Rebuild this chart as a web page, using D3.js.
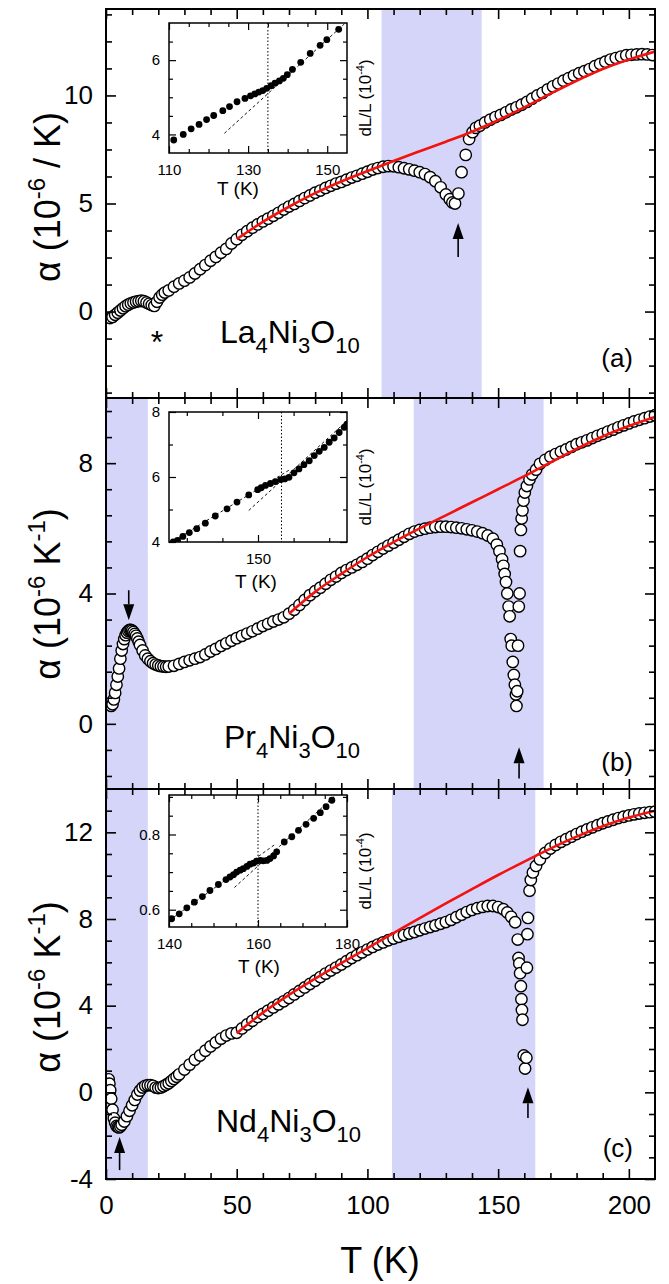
<!DOCTYPE html>
<html lang="en">
<head>
<meta charset="UTF-8" />
<script src="https://cdn.jsdelivr.net/npm/d3@7/dist/d3.min.js"></script>
<style>
  body { margin: 0; background: #fff; }
  text { font-family: "Liberation Sans", Arial, sans-serif; fill: #000; }
</style>
</head>
<body>
<svg width="669" height="1284"></svg>
<script>
// ---------- data: [T (K), alpha (1e-6/K)] ----------
const dataA = [[1.5,-0.3],[2.5,-0.25],[3.5,-0.15],[4.5,-0.05],[5.5,0.05],[6.5,0.15],[7.5,0.25],[8.5,0.32],[9.5,0.38],[10.5,0.42],
  [11.5,0.46],[12.5,0.48],[13.5,0.5],[14.5,0.48],[15.5,0.42],[16.5,0.36],[17.5,0.3],[18.5,0.26],[19.5,0.45],[20.5,0.65],
  [21.5,0.78],[22.5,0.88],[24,0.98],[26,1.15],[28,1.3],[30,1.43],[32,1.58],[34,1.76],[36,1.96],[38,2.15],[40,2.35],
  [42,2.53],[44,2.72],[46,2.9],[48,3.15],[50,3.35],[52,3.55],[54,3.72],[56,3.88],[58,4.03],[60,4.17],[62,4.3],[64,4.43],
  [66,4.57],[68,4.72],[70,4.86],[72,4.98],[74,5.12],[76,5.25],[78,5.37],[80,5.5],[82,5.6],[84,5.72],[86,5.82],[88,5.92],
  [90,6.0],[92,6.1],[94,6.2],[96,6.28],[98,6.38],[100,6.47],[102,6.57],[104,6.64],[106,6.7],[108,6.73],[110,6.72],
  [112,6.68],[114,6.63],[116,6.58],[118,6.52],[120,6.45],[122,6.36],[124,6.22],[126,6.03],[128,5.75],[130,5.42],
  [131.5,5.2],[132.5,5.05],[133.5,5.0],[134.8,5.46],[136,6.45],[137.6,7.25],[138.9,7.98],[140.2,8.3],[141.5,8.5],[143,8.6],
  [145,8.75],[147,8.88],[149,9.0],[151,9.1],[153,9.22],[155,9.35],[157,9.45],[159,9.57],[161,9.7],[163,9.85],[165,10.0],
  [167,10.12],[169,10.28],[171,10.42],[173,10.55],[175,10.68],[177,10.8],[179,10.92],[181,11.03],[183,11.12],[185,11.22],
  [187,11.35],[189,11.46],[191,11.56],[193,11.66],[195,11.73],[197,11.8],[199,11.86],[201,11.88],[203,11.9],[205,11.91],
  [207,11.9],[209,11.87]];
const fitA = [[50,3.35],[60,4.15],[70,4.85],[80,5.48],[90,6.02],[100,6.5],[110,6.97],[120,7.42],[130,7.86],[140,8.32],
  [150,8.85],[160,9.45],[170,10.08],[180,10.68],[190,11.22],[200,11.66],[210,12.03]];

const dataB = [[2,0.55],[2.5,0.6],[3,0.75],[3.5,0.95],[4,1.2],[4.5,1.45],[5,1.7],[5.5,2.0],[6,2.25],[6.5,2.45],[7,2.6],
  [7.5,2.72],[8,2.8],[8.5,2.85],[9,2.88],[9.5,2.88],[10,2.86],[10.5,2.82],[11,2.76],[11.5,2.7],[12,2.62],[12.5,2.52],
  [13,2.42],[14,2.25],[15,2.1],[16,2.0],[17,1.92],[18,1.86],[19,1.82],[20,1.79],[21,1.77],[22,1.76],[23,1.75],[24,1.76],
  [26,1.78],[28,1.84],[30,1.9],[32,1.95],[34,2.0],[36,2.05],[38,2.13],[40,2.22],[42,2.3],[44,2.39],[46,2.47],[48,2.55],
  [50,2.63],[52,2.7],[54,2.77],[56,2.84],[58,2.92],[60,3.0],[62,3.07],[64,3.14],[66,3.2],[68,3.27],[70,3.38],[72,3.5],
  [74,3.65],[76,3.8],[78,3.95],[80,4.07],[82,4.18],[84,4.3],[86,4.42],[88,4.52],[90,4.63],[92,4.72],[94,4.8],[96,4.88],
  [98,4.97],[100,5.07],[102,5.18],[104,5.28],[106,5.38],[108,5.47],[110,5.56],[112,5.65],[114,5.74],[116,5.83],[118,5.9],
  [120,5.95],[122,5.99],[124,6.02],[126,6.04],[128,6.05],[130,6.05],[132,6.04],[134,6.02],[136,6.0],[138,5.97],[140,5.94],
  [142,5.9],[144,5.85],[146,5.78],[148,5.68],[149.5,5.5],[150.5,5.3],[151.5,5.05],[152,4.85],[152.5,4.6],[153,4.35],
  [153.5,4.0],[154,3.6],[154.4,3.3],[154.8,2.6],[155.2,2.4],[155.6,1.9],[156,1.5],[156.4,1.2],[156.8,0.9],[157,0.55],
  [157.3,1.0],[157.6,2.4],[157.9,3.6],[158.2,4.0],[158.4,5.3],[158.7,5.95],[159,6.3],[159.3,6.55],[159.7,6.85],[160.2,7.1],
  [161,7.3],[162,7.5],[163,7.65],[164.5,7.8],[166,7.98],[168,8.1],[170,8.2],[172,8.28],[174,8.35],[176,8.42],[178,8.5],
  [180,8.58],[182,8.64],[184,8.7],[186,8.77],[188,8.84],[190,8.9],[192,8.97],[194,9.03],[196,9.1],[198,9.16],[200,9.22],
  [202,9.28],[204,9.33],[206,9.38],[208,9.43],[210,9.47]];
const fitB = [[70,3.38],[80,4.05],[90,4.6],[100,5.12],[110,5.58],[120,6.0],[130,6.4],[140,6.8],[150,7.2],[160,7.6],
  [170,8.02],[180,8.44],[190,8.82],[200,9.14],[210,9.42]];

const dataC = [[1,0.6],[1.3,0.4],[1.6,0.1],[2,-0.3],[2.5,-0.8],[3,-1.2],[3.5,-1.4],[4,-1.55],[4.5,-1.6],[5,-1.62],
  [5.5,-1.58],[6,-1.5],[7,-1.35],[8,-1.1],[9,-0.85],[10,-0.6],[11,-0.35],[12,-0.1],[13,0.08],[14,0.22],[15,0.3],
  [16,0.33],[17,0.33],[18,0.3],[19,0.22],[20,0.2],[21,0.22],[22,0.28],[23,0.35],[24,0.42],[25,0.52],[26,0.62],[27,0.72],
  [28,0.83],[30,1.05],[32,1.28],[34,1.5],[36,1.7],[38,1.92],[40,2.12],[42,2.3],[44,2.48],[46,2.62],[48,2.72],[50,2.75],
  [52,2.95],[54,3.13],[56,3.3],[58,3.48],[60,3.62],[62,3.77],[64,3.92],[66,4.06],[68,4.2],[70,4.35],[72,4.52],[74,4.68],
  [76,4.84],[78,5.0],[80,5.15],[82,5.32],[84,5.48],[86,5.62],[88,5.76],[90,5.9],[92,6.05],[94,6.2],[96,6.33],[98,6.46],
  [100,6.59],[102,6.71],[104,6.82],[106,6.92],[108,7.02],[110,7.1],[112,7.18],[114,7.26],[116,7.33],[118,7.4],[120,7.48],
  [122,7.56],[124,7.63],[126,7.7],[128,7.78],[130,7.86],[132,7.96],[134,8.08],[136,8.2],[138,8.32],[140,8.42],[142,8.5],
  [144,8.56],[146,8.6],[148,8.6],[150,8.55],[152,8.45],[153.5,8.3],[155,8.1],[156.5,7.85],[157.5,7.05],[157.8,6.2],
  [158.1,5.95],[158.4,5.5],[158.7,4.9],[158.9,4.3],[159.1,3.8],[159.3,3.35],[159.8,1.7],[160.3,1.1],[160.8,1.6],[161,5.75],
  [161.2,7.3],[161.4,8.05],[162,9.3],[162.5,9.8],[163.3,10.15],[164.5,10.45],[166,10.75],[168,11.05],[170,11.25],
  [172,11.42],[174,11.56],[176,11.68],[178,11.8],[180,11.92],[182,12.03],[184,12.13],[186,12.23],[188,12.33],[190,12.42],
  [192,12.5],[194,12.58],[196,12.66],[198,12.72],[200,12.78],[202,12.83],[204,12.87],[206,12.9],[208,12.93],[210,12.95]];
const fitC = [[50,2.73],[60,3.68],[70,4.5],[80,5.25],[90,5.96],[100,6.66],[110,7.35],[120,8.04],[130,8.72],[140,9.38],
  [150,10.03],[160,10.65],[170,11.25],[180,11.8],[190,12.28],[200,12.68],[210,13.0]];

// shaded temperature windows (K)
const shadeA = [[105.4, 143.7]];
const shadeB = [[0, 16], [117.7, 167.4]];
const shadeC = [[0, 16], [109.4, 164.2]];

// arrows: T, tail value, tip value
const arrowsA = [[134.7, 2.53, 4.1]];
const arrowsB = [[8.7, 4.1, 3.18], [158, -1.68, -0.72]];
const arrowsC = [[5.2, -3.59, -2.06], [161.4, -1.19, 0.24]];

// ---------- insets: [T (K), dL/L (1e-4)] ----------
const insetA = [[111.2,3.85],[113.6,4.0],[115.6,4.15],[117.6,4.27],[119.5,4.4],[121.3,4.51],[123.6,4.64],[125.3,4.75],
  [127.2,4.88],[129.2,4.97],[130.6,5.04],[131.7,5.09],[132.7,5.14],[133.7,5.18],[134.7,5.24],[135.8,5.31],[136.8,5.38],
  [137.9,5.44],[138.9,5.51],[139.9,5.61],[141.2,5.75],[143.3,5.94],[145.7,6.18],[148.2,6.4],[149.9,6.55],[152.9,6.83]];
const insetDashA = [[[124, 4.03], [155, 7.04]]];
const insetB = [[126.2,4.0],[127.4,4.05],[128.9,4.17],[130.7,4.29],[132.8,4.41],[135.2,4.58],[138,4.8],[141.3,5.02],
  [144.1,5.23],[147.4,5.45],[149.9,5.61],[150.9,5.67],[152.1,5.74],[153.5,5.8],[154.9,5.86],[156.4,5.92],[157.5,5.94],
  [158.7,5.99],[160.1,6.13],[161.5,6.25],[162.9,6.38],[164.4,6.5],[165.8,6.66],[167.2,6.79],[168.6,6.91],[170,7.07],
  [171.4,7.2],[172.8,7.37],[174.2,7.53],[175,7.63]];
const insetDashB = [[[125, 3.95], [159, 6.23]], [[147.4, 4.97], [176, 7.83]]];
const insetC = [[140.6,0.576],[142.3,0.589],[144,0.605],[145.7,0.62],[147.5,0.635],[149.2,0.651],[151.1,0.667],
  [152.8,0.68],[153.7,0.687],[154.5,0.693],[155.2,0.7],[156,0.705],[156.7,0.709],[157.5,0.715],[158.2,0.721],[159,0.724],
  [159.7,0.729],[160.5,0.731],[161.2,0.73],[162,0.731],[162.7,0.736],[163.5,0.743],[164.2,0.754],[165.9,0.78],
  [167.6,0.794],[169.1,0.811],[170.8,0.827],[172.5,0.843],[174,0.858],[175.3,0.874],[176.6,0.891]];
const insetDashC = [[[140, 0.571], [164, 0.775]], [[154.7, 0.659], [180, 0.932]]];

// ---------- layout ----------
const svg = d3.select("svg");
const FONT = '"Liberation Sans", Arial, sans-serif';
const L = 106, R = 655;
const x = d3.scaleLinear().domain([0, 210]).range([L, R]);
const tMajor = [0, 50, 100, 150, 200];
const tMinor = d3.range(10, 210, 10).filter(t => t % 50 !== 0);
const intFmt = v => String(v);   // plain hyphen minus, like the original

const panels = [
  { top: 9, bottom: 398, dom: [-4, 14], major: [0, 5, 10], minor: d3.range(-3.75, 14, 1.25).filter(v => Math.abs(v % 5) > 1e-6),
    data: dataA, fit: fitA, shade: shadeA, arrows: arrowsA, tag: "(a)", tagY: 367,
    name: ["La", "4", "Ni", "3", "O", "10"], nameX: 220, nameY: 343,
    title: [["α (10", 0], ["-6", 1], [" / K)", 0]], titleY: 197,
    inset: { data: insetA, dash: insetDashA, vline: 135, xd: [110, 155], yd: [3.5, 7], top: 23, bottom: 153,
      xMajor: [110, 130, 150], xMinor: d3.range(115, 155, 5).filter(t => (t - 110) % 20), yMajor: [4, 6],
      yMinor: [4.5, 5, 5.5, 6.5], fmt: intFmt, xTitleX: 238, xTitleY: 195 } },
  { top: 398, bottom: 789, dom: [-2, 10], major: [0, 4, 8], minor: [-1.6, -0.8, 0.8, 1.6, 2.4, 3.2, 4.8, 5.6, 6.4, 7.2, 8.8, 9.6],
    data: dataB, fit: fitB, shade: shadeB, arrows: arrowsB, tag: "(b)", tagY: 771,
    name: ["Pr", "4", "Ni", "3", "O", "10"], nameX: 224, nameY: 748,
    title: [["α (10", 0], ["-6", 1], [" K", 0], ["-1", 1], [")", 0]], titleY: 594,
    inset: { data: insetB, dash: insetDashB, vline: 156.6, xd: [125, 175], yd: [4, 8], top: 412, bottom: 542,
      xMajor: [150], xMinor: [130, 140, 160, 170], yMajor: [4, 6, 8], yMinor: [5, 7], fmt: intFmt,
      xTitleX: 256, xTitleY: 588 } },
  { top: 789, bottom: 1179, dom: [-4, 14], major: [-4, 0, 4, 8, 12], minor: d3.range(-3, 14, 1).filter(v => v % 4 !== 0),
    data: dataC, fit: fitC, shade: shadeC, arrows: arrowsC, tag: "(c)", tagY: 1157,
    name: ["Nd", "4", "Ni", "3", "O", "10"], nameX: 216, nameY: 1132,
    title: [["α (10", 0], ["-6", 1], [" K", 0], ["-1", 1], [")", 0]], titleY: 987,
    inset: { data: insetC, dash: insetDashC, vline: 160, xd: [140, 180], yd: [0.554, 0.905], top: 795, bottom: 927,
      xMajor: [140, 160, 180], xMinor: [145, 150, 155, 165, 170, 175], yMajor: [0.6, 0.8],
      yMinor: [0.65, 0.7, 0.75, 0.85, 0.9], fmt: d3.format(".1f"), xTitleX: 259, xTitleY: 973 } }
];

// inward tick marks on one side
function tickMarks(g, scale, side, values, size, pos, width) {
  const gen = { left: d3.axisLeft, right: d3.axisRight, top: d3.axisTop, bottom: d3.axisBottom }[side];
  const a = g.append("g")
    .attr("transform", side === "left" || side === "right" ? `translate(${pos},0)` : `translate(0,${pos})`)
    .call(gen(scale).tickValues(values).tickSize(-size).tickFormat(""));
  a.select(".domain").remove();
  a.selectAll("line").attr("stroke", "#000").attr("stroke-width", width);
  return a;
}
function labels(g, scale, side, values, pos, pad, size, fmt) {
  const gen = side === "left" ? d3.axisLeft : d3.axisBottom;
  const a = g.append("g")
    .attr("transform", side === "left" ? `translate(${pos},0)` : `translate(0,${pos})`)
    .call(gen(scale).tickValues(values).tickSize(0).tickPadding(pad).tickFormat(fmt));
  a.select(".domain").remove();
  a.selectAll("line").remove();
  a.selectAll("text").attr("font-family", FONT).attr("font-size", size).attr("fill", "#000");
  return a;
}

panels.forEach((p, i) => {
  const y = d3.scaleLinear().domain(p.dom).range([p.bottom, p.top]);
  const g = svg.append("g");
  svg.append("clipPath").attr("id", "clip" + i).append("rect")
    .attr("x", L).attr("y", p.top).attr("width", R - L).attr("height", p.bottom - p.top);
  const body = g.append("g").attr("clip-path", `url(#clip${i})`);

  body.selectAll("rect").data(p.shade).join("rect")
    .attr("x", d => x(d[0])).attr("width", d => x(d[1]) - x(d[0]))
    .attr("y", p.top).attr("height", p.bottom - p.top).attr("fill", "#d5d5fa");

  body.selectAll("circle").data(p.data).join("circle")
    .attr("cx", d => x(d[0])).attr("cy", d => y(d[1])).attr("r", 5.7)
    .attr("fill", "#fff").attr("stroke", "#000").attr("stroke-width", 1.4);

  body.append("path").datum(p.fit)
    .attr("d", d3.line().x(d => x(d[0])).y(d => y(d[1])).curve(d3.curveMonotoneX))
    .attr("fill", "none").attr("stroke", "#f2120f").attr("stroke-width", 2.6);

  // arrows
  p.arrows.forEach(([t, tail, tip]) => {
    const ax = x(t), y0 = y(tail), y1 = y(tip), dir = Math.sign(y1 - y0), hl = 16, hw = 5.5;
    g.append("line").attr("x1", ax).attr("x2", ax).attr("y1", y0).attr("y2", y1 - dir * hl)
      .attr("stroke", "#000").attr("stroke-width", 1.6);
    g.append("path").attr("d", `M${ax},${y1}L${ax - hw},${y1 - dir * hl}L${ax + hw},${y1 - dir * hl}Z`).attr("fill", "#000");
  });

  // ticks on all four sides
  tickMarks(g, y, "left", p.major, 10, L, 1.6);
  tickMarks(g, y, "left", p.minor, 6, L, 1.6);
  tickMarks(g, y, "right", p.major, 10, R, 1.6);
  tickMarks(g, y, "right", p.minor, 6, R, 1.6);
  tickMarks(g, x, "top", tMajor, 10, p.top, 1.6);
  tickMarks(g, x, "top", tMinor, 6, p.top, 1.6);
  tickMarks(g, x, "bottom", tMajor, 10, p.bottom, 1.6);
  tickMarks(g, x, "bottom", tMinor, 6, p.bottom, 1.6);
  labels(g, y, "left", p.major, L, 13, 26, intFmt);
  if (i === 2) labels(g, x, "bottom", tMajor, p.bottom, 17, 26, intFmt);

  g.append("rect").attr("x", L).attr("y", p.top).attr("width", R - L).attr("height", p.bottom - p.top)
    .attr("fill", "none").attr("stroke", "#000").attr("stroke-width", 2);

  // y title
  const tt = g.append("text").attr("transform", `translate(60,${p.titleY}) rotate(-90)`)
    .attr("text-anchor", "middle").attr("font-size", 36);
  let up = 0;
  p.title.forEach(([s, sup]) => {
    const dy = sup ? -15 - up : -up;
    up = sup ? -15 : 0;
    tt.append("tspan").attr("dy", dy).attr("font-size", sup ? 24 : 36).text(s);
  });

  // compound name with subscripts
  const nm = g.append("text").attr("x", p.nameX).attr("y", p.nameY).attr("font-size", 32);
  p.name.forEach((s, k) => {
    nm.append("tspan").attr("dy", k === 0 ? 0 : (k % 2 ? 10 : -10)).attr("font-size", k % 2 ? 22 : 32).text(s);
  });

  g.append("text").attr("x", 633).attr("y", p.tagY).attr("text-anchor", "end").attr("font-size", 26).text(p.tag);

  // inset
  const q = p.inset;
  const ix = d3.scaleLinear().domain(q.xd).range([169, 347]);
  const iy = d3.scaleLinear().domain(q.yd).range([q.bottom, q.top]);
  const ig = svg.append("g");
  ig.append("rect").attr("x", 169).attr("y", q.top).attr("width", 178).attr("height", q.bottom - q.top).attr("fill", "#fff");
  svg.append("clipPath").attr("id", "iclip" + i).append("rect")
    .attr("x", 169).attr("y", q.top).attr("width", 178).attr("height", q.bottom - q.top);
  const ib = ig.append("g").attr("clip-path", `url(#iclip${i})`);
  ib.append("line").attr("x1", ix(q.vline)).attr("x2", ix(q.vline)).attr("y1", q.top).attr("y2", q.bottom)
    .attr("stroke", "#000").attr("stroke-width", 1).attr("stroke-dasharray", "1.5,2");
  ib.selectAll("path.dash").data(q.dash).join("path").attr("class", "dash")
    .attr("d", d3.line().x(d => ix(d[0])).y(d => iy(d[1])))
    .attr("stroke", "#000").attr("stroke-width", 0.9).attr("stroke-dasharray", "3,2.5").attr("fill", "none");
  ib.selectAll("circle").data(q.data).join("circle")
    .attr("cx", d => ix(d[0])).attr("cy", d => iy(d[1])).attr("r", 3.4).attr("fill", "#000");

  tickMarks(ig, iy, "left", q.yMajor, 7, 169, 1.2);
  tickMarks(ig, iy, "left", q.yMinor, 4, 169, 1.2);
  tickMarks(ig, iy, "right", q.yMajor, 7, 347, 1.2);
  tickMarks(ig, iy, "right", q.yMinor, 4, 347, 1.2);
  tickMarks(ig, ix, "top", q.xMajor, 7, q.top, 1.2);
  tickMarks(ig, ix, "top", q.xMinor, 4, q.top, 1.2);
  tickMarks(ig, ix, "bottom", q.xMajor, 7, q.bottom, 1.2);
  tickMarks(ig, ix, "bottom", q.xMinor, 4, q.bottom, 1.2);
  labels(ig, iy, "left", q.yMajor, 169, 9, 15, q.fmt);
  labels(ig, ix, "bottom", q.xMajor, q.bottom, 11, 15, intFmt);
  ig.append("rect").attr("x", 169).attr("y", q.top).attr("width", 178).attr("height", q.bottom - q.top)
    .attr("fill", "none").attr("stroke", "#000").attr("stroke-width", 1.5);

  ig.append("text").attr("x", q.xTitleX).attr("y", q.xTitleY).attr("text-anchor", "middle").attr("font-size", 19).text("T (K)");
  const dl = ig.append("text").attr("transform", `translate(371,${(q.top + q.bottom) / 2 + 10}) rotate(-90)`)
    .attr("text-anchor", "middle").attr("font-size", 17);
  dl.append("tspan").text("dL/L (10");
  dl.append("tspan").attr("dy", -7).attr("font-size", 11).text("-4");
  dl.append("tspan").attr("dy", 7).text(")");
});

// asterisk marking the small anomaly in panel (a)
svg.append("text").attr("x", 157).attr("y", 353).attr("text-anchor", "middle").attr("font-size", 32).text("*");

// shared x title
svg.append("text").attr("x", 380).attr("y", 1273).attr("text-anchor", "middle").attr("font-size", 36).text("T (K)");
</script>
</body>
</html>
